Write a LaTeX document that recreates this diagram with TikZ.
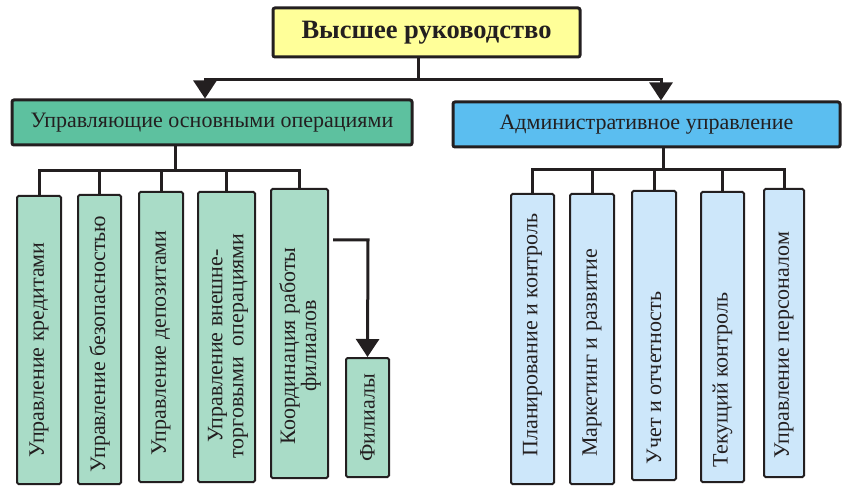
\documentclass[tikz,border=0pt]{standalone}
\usepackage{fontspec}
\setmainfont{Liberation Serif}
\usetikzlibrary{arrows.meta}
\definecolor{topfill}{HTML}{FFFF99}
\definecolor{lgreen}{HTML}{5DC19F}
\definecolor{lgreenc}{HTML}{A9DCC7}
\definecolor{rblue}{HTML}{5BBEF0}
\definecolor{rbluec}{HTML}{CDE7FA}
\definecolor{ink}{HTML}{231F20}
\tikzset{
  hbox/.style={draw=ink, line width=3pt, rounded corners=2pt, inner sep=0pt},
  cbox/.style={draw=ink, line width=2pt, rounded corners=1.5pt, inner sep=0pt},
  vtext/.style={rotate=90, font=\fontsize{22}{21}\selectfont, text=ink, align=center, inner sep=0pt},
  conn/.style={draw=ink, line width=3pt},
  arr/.style={conn, -{Triangle[width=23pt,length=18pt]}},
}
\begin{document}
\begin{tikzpicture}[x=1pt,y=-1pt]
\useasboundingbox (0,0) rectangle (843,486);
% top
\node[hbox, fill=topfill, minimum width=307pt, minimum height=49pt, font=\fontsize{26.5}{26.5}\selectfont\bfseries, text=ink] (top) at (426.5,32.5) {Высшее руководство};
% heads
\node[hbox, fill=lgreen, minimum width=400pt, minimum height=45pt, font=\fontsize{22}{22}\selectfont, text=ink] (lhead) at (212,122.5) {Управляющие основными операциями};
\node[hbox, fill=rblue, minimum width=387pt, minimum height=45pt, font=\fontsize{22}{22}\selectfont, text=ink] (rhead) at (646.5,124.5) {Административное управление};
% top connectors
\coordinate (tbus) at (418,80);
\coordinate (la) at (205,80);
\coordinate (ra) at (661,80);
\draw[conn] (tbus |- top.south) -- (tbus);
\draw[arr] (tbus) -- (la) -- (la |- lhead.north);
\draw[arr] (tbus) -- (ra) -- (ra |- rhead.north);
% left children
\node[cbox, fill=lgreenc, minimum width=44pt, minimum height=288pt] (c1) at (39,340) {};
\node[cbox, fill=lgreenc, minimum width=43pt, minimum height=289pt] (c2) at (99.5,339.5) {};
\node[cbox, fill=lgreenc, minimum width=44pt, minimum height=290pt] (c3) at (161,337) {};
\node[cbox, fill=lgreenc, minimum width=57pt, minimum height=290pt] (c4) at (226.5,337) {};
\node[cbox, fill=lgreenc, minimum width=57pt, minimum height=289pt] (c5) at (299.5,333.5) {};
\node[cbox, fill=lgreenc, minimum width=43pt, minimum height=119pt] (fil) at (367.5,417.5) {};
\node[vtext] (t1) at (39,350) {Управление кредитами};
\node[vtext] (t2) at (99.5,344) {Управление безопасностью};
\node[vtext] (t3) at (161,343) {Управление депозитами};
\node[vtext] (t4) at (228,346) {Управление внешне-\\торговыми\ \ операциями};
\node[vtext] (t5) at (300,346) {Координация работы\\филиалов};
\node[vtext] (t6) at (367.5,418) {Филиалы};
\coordinate (lstem) at (175,171);
\draw[conn] (lstem |- lhead.south) -- (lstem);
\foreach \n in {c1,c2,c3,c4,c5}{
  \draw[conn] (lstem) -| (\n.north);
}
\coordinate (fbend) at (368,240);
\draw[arr] ([xshift=4pt]c5.east |- fbend) -- (fbend) -- (fil.north);
% right children
\node[cbox, fill=rbluec, minimum width=43pt, minimum height=290pt] (r1) at (532.5,339) {};
\node[cbox, fill=rbluec, minimum width=44pt, minimum height=290pt] (r2) at (592,339) {};
\node[cbox, fill=rbluec, minimum width=44pt, minimum height=289pt] (r3) at (654,335.5) {};
\node[cbox, fill=rbluec, minimum width=43pt, minimum height=290pt] (r4) at (722.5,337) {};
\node[cbox, fill=rbluec, minimum width=40pt, minimum height=288pt] (r5) at (784,333) {};
\node[vtext] (u1) at (532.5,335) {Планирование и контроль};
\node[vtext] (u2) at (592,353) {Маркетинг и развитие};
\node[vtext] (u3) at (654,378) {Учет и отчетность};
\node[vtext] (u4) at (722.5,380) {Текущий контроль};
\node[vtext] (u5) at (784,345) {Управление персоналом};
\coordinate (rstem) at (663,170);
\draw[conn] (rstem |- rhead.south) -- (rstem);
\foreach \n in {r1,r2,r3,r4,r5}{
  \draw[conn] (rstem) -| (\n.north);
}
\end{tikzpicture}
\end{document}
